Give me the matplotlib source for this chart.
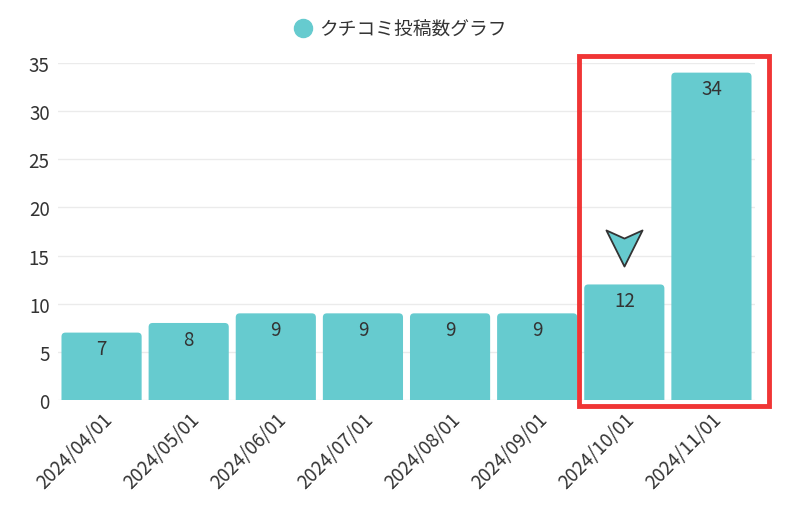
import matplotlib
matplotlib.use("Agg")
import matplotlib.pyplot as plt
from matplotlib.patches import Rectangle, FancyBboxPatch
from matplotlib.lines import Line2D
from matplotlib.path import Path
import matplotlib.transforms as mtransforms

plt.rcParams['font.family'] = ['Noto Sans CJK JP', 'DejaVu Sans']

categories = ["2024/04/01", "2024/05/01", "2024/06/01", "2024/07/01",
              "2024/08/01", "2024/09/01", "2024/10/01", "2024/11/01"]
values = [7, 8, 9, 9, 9, 9, 12, 34]
series_name = "クチコミ投稿数グラフ"
yticks = [0, 5, 10, 15, 20, 25, 30, 35]
highlight = (6, 7)
arrow_index = 6

teal = "#66CBCF"
fs = 13.5

fig = plt.figure(figsize=(8, 5.1), dpi=100)
ax = fig.add_axes([58/800, 109/510, 697/800, 337/510])

x = list(range(len(categories)))
ax.set_xlim(-0.5, len(categories) - 0.5)
ax.set_ylim(0, 35)
bars = ax.bar(x, values, width=0.92, color=teal, zorder=2)
# replace with rounded-top rectangles of the same geometry
x_per_px = (len(categories)) / 697.0
y_per_px = 35 / 337.0
r_px = 4
for b in bars:
    bx, by, bw, bh = b.get_x(), b.get_y(), b.get_width(), b.get_height()
    b.set_visible(False)
    ext = r_px * y_per_px
    fp = FancyBboxPatch((bx, by - ext), bw, bh + ext,
                        boxstyle="round,pad=0,rounding_size=%f" % (r_px * x_per_px),
                        mutation_aspect=y_per_px / x_per_px,
                        facecolor=teal, edgecolor='none', zorder=2)
    ax.add_patch(fp)

ax.set_yticks(yticks)
ax.set_xticks(x)
ax.set_xticklabels(categories, rotation=45, ha='right', rotation_mode='anchor')
ax.tick_params(axis='both', length=0, labelsize=fs, colors='#333333')
ax.tick_params(axis='x', pad=6)
ax.tick_params(axis='y', pad=6)
for s in ax.spines.values():
    s.set_visible(False)
ax.grid(axis='y', color='#ebebeb', linewidth=1, zorder=0)
ax.set_axisbelow(True)

for xi, v in zip(x, values):
    ax.annotate(str(v), (xi, v), xytext=(0, -4), textcoords='offset points',
                ha='center', va='top', fontsize=fs, color='#333333', zorder=3)

# legend
h = Line2D([], [], marker='o', linestyle='', markersize=13,
           markerfacecolor=teal, markeredgecolor=teal)
leg = fig.legend([h], [series_name], loc='center', bbox_to_anchor=(0.5, 1 - 30/510),
                 frameon=False, fontsize=fs, handletextpad=0.4, handlelength=1.0)
for t in leg.get_texts():
    t.set_color('#333333')

# arrow marker above the highlighted bar
chev = Path([(-1, 1), (0, 0.55), (1, 1), (0, -1), (-1, 1)],
            [Path.MOVETO, Path.LINETO, Path.LINETO, Path.LINETO, Path.CLOSEPOLY])
off = mtransforms.offset_copy(ax.transData, fig=fig, x=0, y=26, units='points')
ax.plot(arrow_index, values[arrow_index], marker=chev, markersize=26,
        markerfacecolor=teal, markeredgecolor='#333333', markeredgewidth=1.3,
        transform=off, clip_on=False, zorder=4)

# red highlight box
x0 = highlight[0] - 0.5 - 0.02
x1 = highlight[1] + 0.5 + 0.16
rect = Rectangle((x0, -0.6), x1 - x0, 35.7 + 0.6, fill=False,
                 edgecolor='#F03535', linewidth=3.5, clip_on=False, zorder=5)
ax.add_patch(rect)

fig.savefig("out.png", dpi=100)
